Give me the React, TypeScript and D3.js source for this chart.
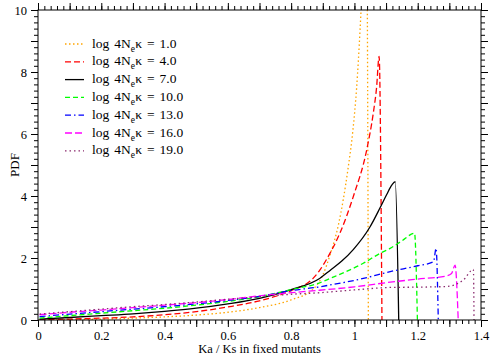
import React, { useEffect, useRef } from 'react';
import * as d3 from 'd3';

// log 4Ne*kappa values, one curve per value
const LOG_KAPPA = ['1.0', '4.0', '7.0', '10.0', '13.0', '16.0', '19.0'];

// [Ka/Ks, PDF]
const CURVE_1: [number, number][] = [
  [0.005, 0.0], [0.1, 0.01], [0.2, 0.03], [0.3, 0.06], [0.4, 0.1], [0.5, 0.16],
  [0.6, 0.25], [0.7, 0.4], [0.8, 0.65], [0.87, 1.0], [0.9, 1.45], [0.923, 2.1],
  [0.95, 3.1], [0.965, 3.9], [0.98, 4.9], [0.995, 6.1], [1.007, 7.5], [1.018, 9.4],
  [1.03, 12], [1.038, 14], [1.044, 0],
];
const CURVE_4: [number, number][] = [
  [0.005, 0.01], [0.1, 0.03], [0.2, 0.06], [0.3, 0.1], [0.4, 0.17], [0.5, 0.27],
  [0.6, 0.42], [0.7, 0.62], [0.8, 0.95], [0.87, 1.35], [0.89, 1.6], [0.92, 2.1],
  [0.954, 2.8], [0.997, 4.0], [1.039, 5.5], [1.06, 6.7], [1.07, 7.5], [1.078, 8.5],
  [1.087, 0],
];
const CURVE_7: [number, number][] = [
  [0.005, 0.03], [0.1, 0.08], [0.2, 0.14], [0.3, 0.2], [0.4, 0.28], [0.5, 0.38],
  [0.6, 0.52], [0.7, 0.7], [0.8, 0.98], [0.89, 1.34], [0.923, 1.6], [0.96, 1.9],
  [0.997, 2.28], [1.049, 3.0], [1.081, 3.62], [1.102, 4.05], [1.118, 4.35],
  [1.129, 4.46], [1.14, 0],
];
const CURVE_10: [number, number][] = [
  [0.005, 0.06], [0.1, 0.14], [0.2, 0.22], [0.3, 0.3], [0.4, 0.38], [0.5, 0.48],
  [0.6, 0.6], [0.7, 0.75], [0.8, 0.98], [0.89, 1.2], [0.923, 1.34], [1.028, 1.83],
  [1.081, 2.15], [1.113, 2.31], [1.15, 2.55], [1.19, 2.8], [1.199, 0],
];
const CURVE_13: [number, number][] = [
  [0.005, 0.11], [0.1, 0.19], [0.2, 0.27], [0.3, 0.35], [0.4, 0.43], [0.5, 0.52],
  [0.6, 0.63], [0.7, 0.76], [0.8, 0.95], [0.89, 1.07], [0.923, 1.13], [1.028, 1.34],
  [1.113, 1.56], [1.2, 1.75], [1.25, 1.88], [1.258, 2.31], [1.265, 0],
];
const CURVE_16: [number, number][] = [
  [0.005, 0.17], [0.1, 0.25], [0.2, 0.32], [0.3, 0.4], [0.4, 0.48], [0.5, 0.56],
  [0.6, 0.66], [0.7, 0.78], [0.8, 0.88], [0.89, 0.96], [1.0, 1.07], [1.113, 1.22],
  [1.2, 1.32], [1.29, 1.42], [1.307, 1.5], [1.318, 1.77], [1.328, 0],
];
const CURVE_19: [number, number][] = [
  [0.005, 0.19], [0.1, 0.27], [0.2, 0.35], [0.3, 0.43], [0.4, 0.5], [0.5, 0.58],
  [0.6, 0.67], [0.7, 0.75], [0.8, 0.83], [0.89, 0.88], [1.0, 0.97], [1.113, 1.05],
  [1.2, 1.06], [1.29, 1.08], [1.344, 1.29], [1.376, 1.63], [1.378, 0],
];

const CURVES = [CURVE_1, CURVE_4, CURVE_7, CURVE_10, CURVE_13, CURVE_16, CURVE_19];
const COLORS = ['#ffa500', '#ff0000', '#000000', '#00ff00', '#0000ff', '#ff00ff', '#8a2a6e'];
const DASHES = ['1.5,2.5', '6,3', null, '5,3', '6,3,1.5,3', '7,3', '1.5,3'];

const X_MAJOR = d3.range(15).map((i) => i / 10);
const X_MINOR = d3.range(71).map((i) => i / 50);
const Y_MAJOR = d3.range(11);
const Y_MINOR = d3.range(51).map((i) => i / 5);

const App = () => {
  const ref = useRef<SVGSVGElement>(null);

  useEffect(() => {
    const svg = d3.select(ref.current);
    svg.selectAll('*').remove();

    const left = 38, right = 481, top = 10, bottom = 320;
    const x = d3.scaleLinear().domain([0, 1.4]).range([left, right]);
    const y = d3.scaleLinear().domain([0, 10]).range([bottom, top]);

    const font = '"Liberation Serif", "Times New Roman", serif';

    svg.append('defs').append('clipPath').attr('id', 'plot-clip')
      .append('rect').attr('x', left).attr('y', top)
      .attr('width', right - left).attr('height', bottom - top);

    const line = d3.line<[number, number]>()
      .x((d) => x(d[0]))
      .y((d) => y(d[1]))
      .curve(d3.curveMonotoneX);

    const curves = svg.append('g').attr('clip-path', 'url(#plot-clip)');
    CURVES.forEach((c, i) => {
      curves.append('path')
        .attr('d', line(c))
        .attr('fill', 'none')
        .attr('stroke', COLORS[i])
        .attr('stroke-width', 1.3)
        .attr('stroke-dasharray', DASHES[i]);
    });

    const xLabel = (d: number) => {
      const k = Math.round(d * 10);
      return k % 2 === 0 ? String(+(k / 10).toFixed(1)) : '';
    };
    const yLabel = (d: number) => (d % 2 === 0 ? String(d) : '');

    const styleAxis = (g: any) => {
      g.select('.domain').remove();
      g.selectAll('line').attr('stroke', '#000');
      g.selectAll('text').attr('font-family', font).attr('font-size', 12.5).attr('fill', '#000');
    };

    // bottom
    svg.append('g').attr('transform', `translate(0,${bottom})`)
      .call(d3.axisBottom(x).tickValues(X_MINOR).tickSize(4).tickFormat(() => ''))
      .call(styleAxis);
    svg.append('g').attr('transform', `translate(0,${bottom})`)
      .call(d3.axisBottom(x).tickValues(X_MAJOR).tickSize(7).tickPadding(4).tickFormat(xLabel as any))
      .call(styleAxis);
    // top
    svg.append('g').attr('transform', `translate(0,${top})`)
      .call(d3.axisTop(x).tickValues(X_MINOR).tickSize(4).tickFormat(() => ''))
      .call(styleAxis);
    svg.append('g').attr('transform', `translate(0,${top})`)
      .call(d3.axisTop(x).tickValues(X_MAJOR).tickSize(7).tickFormat(() => ''))
      .call(styleAxis);
    // left
    svg.append('g').attr('transform', `translate(${left},0)`)
      .call(d3.axisLeft(y).tickValues(Y_MINOR).tickSize(4).tickFormat(() => ''))
      .call(styleAxis);
    svg.append('g').attr('transform', `translate(${left},0)`)
      .call(d3.axisLeft(y).tickValues(Y_MAJOR).tickSize(7).tickPadding(4).tickFormat(yLabel as any))
      .call(styleAxis);
    // right
    svg.append('g').attr('transform', `translate(${right},0)`)
      .call(d3.axisRight(y).tickValues(Y_MINOR).tickSize(4).tickFormat(() => ''))
      .call(styleAxis);
    svg.append('g').attr('transform', `translate(${right},0)`)
      .call(d3.axisRight(y).tickValues(Y_MAJOR).tickSize(7).tickFormat(() => ''))
      .call(styleAxis);

    svg.append('rect')
      .attr('x', left).attr('y', top)
      .attr('width', right - left).attr('height', bottom - top)
      .attr('fill', 'none').attr('stroke', '#000').attr('stroke-width', 1);

    // axis titles
    svg.append('text')
      .attr('x', (left + right) / 2).attr('y', 353)
      .attr('text-anchor', 'middle')
      .attr('font-family', font).attr('font-size', 12.5)
      .text('Ka / Ks in fixed mutants');
    svg.append('text')
      .attr('transform', `translate(19,${(top + bottom) / 2}) rotate(-90)`)
      .attr('text-anchor', 'middle')
      .attr('font-family', font).attr('font-size', 13)
      .text('PDF');

    // legend
    const legend = svg.append('g');
    LOG_KAPPA.forEach((k, i) => {
      const ly = 44 + i * 17.8;
      legend.append('line')
        .attr('x1', 65).attr('x2', 84).attr('y1', ly).attr('y2', ly)
        .attr('stroke', COLORS[i]).attr('stroke-width', 1.3)
        .attr('stroke-dasharray', DASHES[i]);
      const t = legend.append('text')
        .attr('x', 92).attr('y', ly + 3.5)
        .attr('font-family', font).attr('font-size', 13.5)
        .attr('word-spacing', 1.5);
      t.append('tspan').text('log 4N');
      t.append('tspan').attr('font-size', 9.5).attr('dy', 4).text('e');
      t.append('tspan').attr('dy', -4).attr('dx', 0.5).text(`\u03ba = ${k}`);
    });
  }, []);

  return (
    <svg
      ref={ref}
      width={491}
      height={356}
      style={{ position: 'absolute', left: 0, top: 0, background: '#fff' }}
    />
  );
};

export default App;
